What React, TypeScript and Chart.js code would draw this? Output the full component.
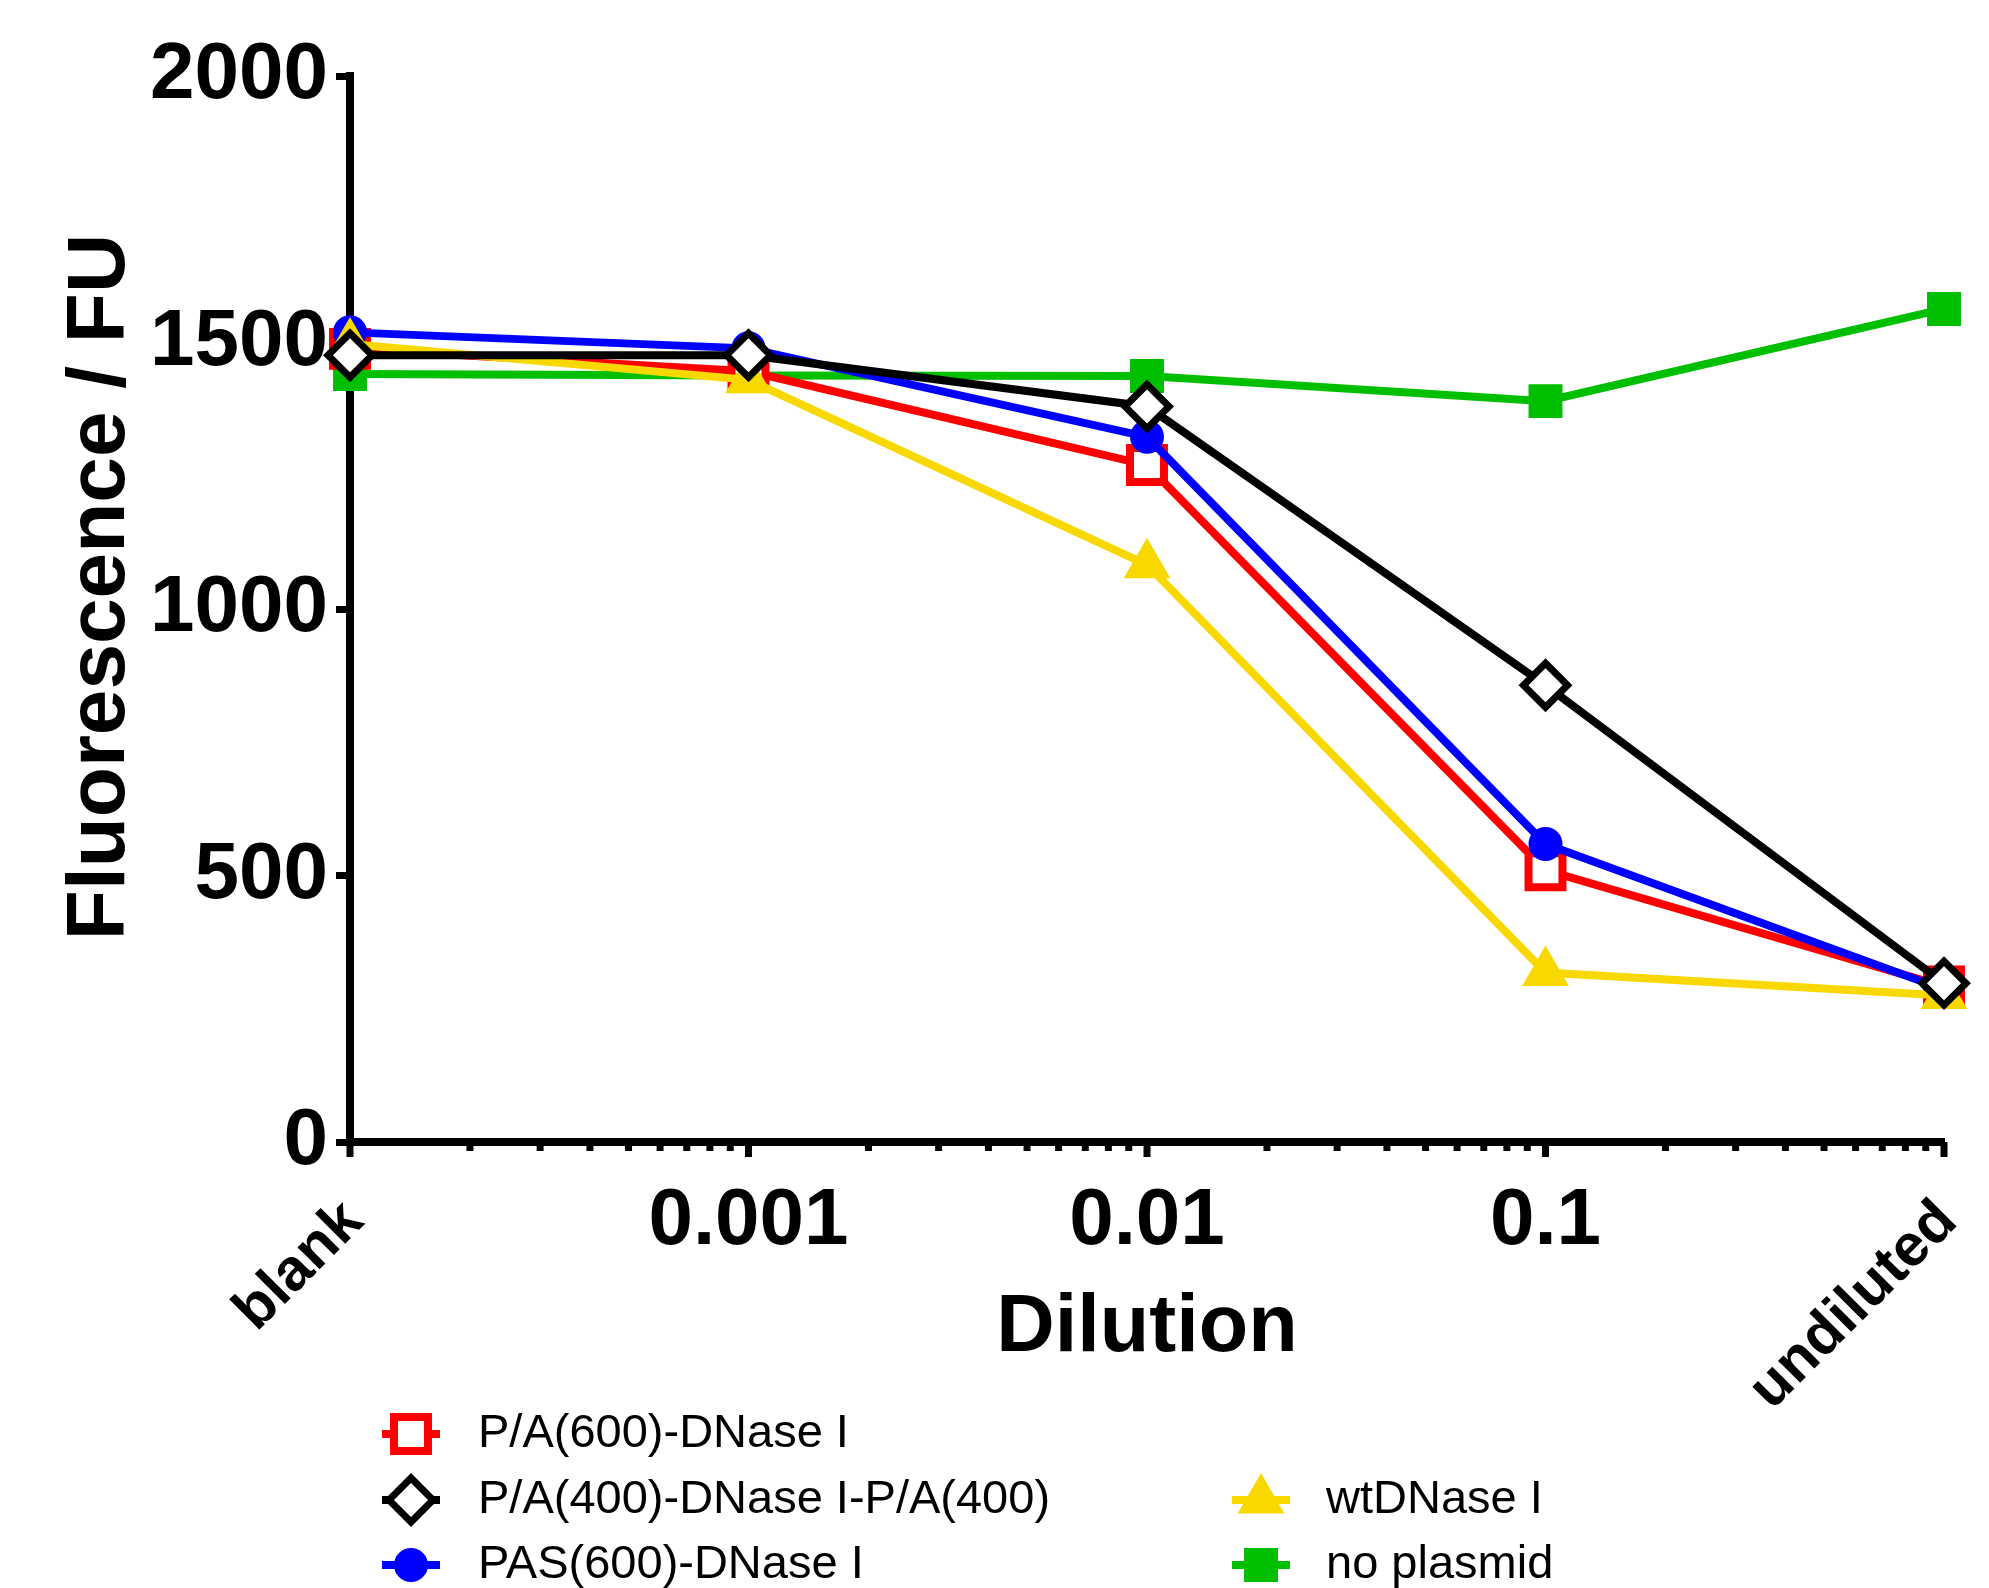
import React, { useEffect, useRef } from "react";
import { Chart, registerables } from "chart.js";
import { drawPoint } from "chart.js/helpers";

Chart.register(...registerables);

// ---------- data ----------
const dilutions = [0.0001, 0.001, 0.01, 0.1, 1];
const dilutionLabels = ["blank", "0.001", "0.01", "0.1", "undiluted"];

const seriesNames = [
  "P/A(600)-DNase I",
  "P/A(400)-DNase I-P/A(400)",
  "PAS(600)-DNase I",
  "wtDNase I",
  "no plasmid",
];
const pa600 = [1488, 1446, 1270, 510, 292];
const pa400 = [1476, 1476, 1380, 857, 298];
const pas600 = [1519, 1489, 1323, 559, 286];
const wtDNase = [1497, 1430, 1083, 318, 275];
const noPlasmid = [1441, 1438, 1437, 1390, 1563];

const yMin = 0;
const yMax = 2000;
const yStep = 500;

const xTitle = "Dilution";
const yTitle = "Fluorescence / FU";

const FONT = "'Liberation Sans', Arial, Helvetica, sans-serif";

const toPoints = (vals: number[]) => vals.map((y, i) => ({ x: dilutions[i], y }));

// legend slot (column, row) for each series, in dataset order
const legendSlots: [number, number][] = [
  [0, 0],
  [0, 1],
  [0, 2],
  [1, 1],
  [1, 2],
];

const customDrawPlugin = {
  id: "customDraw",
  afterDraw(chart: any) {
    const { ctx, chartArea, scales } = chart;
    const xs = scales.x;
    ctx.save();

    // x tick marks (decade majors + integer minors)
    ctx.strokeStyle = "#000";
    ctx.lineWidth = 7;
    for (const t of xs.ticks) {
      const v = t.value;
      if (!(v > 0)) continue;
      const e = Math.floor(Math.log10(v) + 1e-9);
      const m = v / Math.pow(10, e);
      if (Math.abs(m - Math.round(m)) > 1e-6) continue;
      const major = Math.abs(m - 1) < 1e-6 || Math.abs(m - 10) < 1e-6;
      const x = xs.getPixelForValue(v);
      ctx.beginPath();
      ctx.moveTo(x, chartArea.bottom);
      ctx.lineTo(x, chartArea.bottom + (major ? 15 : 9));
      ctx.stroke();
    }

    // x tick labels
    ctx.fillStyle = "#000";
    dilutions.forEach((v, i) => {
      const x = xs.getPixelForValue(v);
      const label = dilutionLabels[i];
      if (isNaN(Number(label))) {
        ctx.save();
        ctx.translate(x + 4, chartArea.bottom + 70);
        ctx.rotate(-Math.PI / 4);
        ctx.font = `bold 59px ${FONT}`;
        ctx.textAlign = "right";
        ctx.textBaseline = "middle";
        ctx.fillText(label, 0, 0);
        ctx.restore();
      } else {
        ctx.font = `bold 80px ${FONT}`;
        ctx.textAlign = "center";
        ctx.textBaseline = "alphabetic";
        ctx.fillText(label, x, chartArea.bottom + 102);
      }
    });

    // x title
    ctx.font = `bold 81px ${FONT}`;
    ctx.textAlign = "center";
    ctx.textBaseline = "alphabetic";
    ctx.fillText(xTitle, (chartArea.left + chartArea.right) / 2, chartArea.bottom + 209);

    // y title
    ctx.save();
    ctx.translate(101, 587);
    ctx.rotate(-Math.PI / 2);
    ctx.font = `bold 82px ${FONT}`;
    ctx.textAlign = "center";
    ctx.textBaseline = "middle";
    ctx.fillText(yTitle, 0, 0);
    ctx.restore();

    // legend
    const colMarkerX = [411, 1261];
    const colTextX = [478, 1326];
    const rowY = [1434, 1500, 1565];
    chart.data.datasets.forEach((ds: any, i: number) => {
      const [c, r] = legendSlots[i];
      const cx = colMarkerX[c];
      const cy = rowY[r];
      ctx.strokeStyle = ds.borderColor;
      ctx.lineWidth = 8;
      ctx.beginPath();
      ctx.moveTo(cx - 29, cy);
      ctx.lineTo(cx + 29, cy);
      ctx.stroke();
      ctx.fillStyle = ds.pointBackgroundColor;
      ctx.strokeStyle = ds.pointBorderColor;
      ctx.lineWidth = ds.pointBorderWidth;
      drawPoint(
        ctx,
        {
          pointStyle: ds.pointStyle,
          radius: ds.pointRadius,
          rotation: 0,
          borderWidth: ds.pointBorderWidth,
        } as any,
        cx,
        cy
      );
      ctx.fillStyle = "#000";
      ctx.font = `47px ${FONT}`;
      ctx.textAlign = "left";
      ctx.textBaseline = "middle";
      ctx.fillText(ds.label, colTextX[c], cy);
    });

    ctx.restore();
  },
};

export default function App() {
  const canvasRef = useRef<HTMLCanvasElement | null>(null);

  useEffect(() => {
    if (!canvasRef.current) return;
    const mk = (
      i: number,
      vals: number[],
      color: string,
      style: string,
      radius: number,
      bg: string,
      bw: number,
      order: number
    ) => ({
      label: seriesNames[i],
      data: toPoints(vals),
      borderColor: color,
      backgroundColor: bg,
      borderWidth: 8,
      pointStyle: style,
      pointRadius: radius,
      pointBackgroundColor: bg,
      pointBorderColor: color,
      pointBorderWidth: bw,
      tension: 0,
      order,
      clip: false as any,
    });

    const chart = new Chart(canvasRef.current, {
      type: "line",
      data: {
        datasets: [
          mk(0, pa600, "#FF0000", "rect", 24, "#FFFFFF", 8, 3),
          mk(1, pa400, "#000000", "rectRot", 22, "#FFFFFF", 7, 0),
          mk(2, pas600, "#0000FF", "circle", 16, "#0000FF", 2, 2),
          mk(3, wtDNase, "#F9D800", "triangle", 25, "#F9D800", 2, 1),
          mk(4, noPlasmid, "#00BF00", "rect", 24, "#00BF00", 0, 4),
        ] as any,
      },
      options: {
        responsive: false,
        animation: false,
        devicePixelRatio: 1,
        layout: { padding: { left: 0, top: 76, right: 45, bottom: 0 } },
        plugins: {
          legend: { display: false },
          tooltip: { enabled: false },
        },
        scales: {
          x: {
            type: "logarithmic",
            min: dilutions[0],
            max: dilutions[dilutions.length - 1],
            ticks: { display: false },
            grid: { display: false },
            border: { display: true, color: "#000", width: 8 },
            afterFit: (s: any) => {
              s.height = 446;
            },
          },
          y: {
            type: "linear",
            min: yMin,
            max: yMax,
            ticks: {
              stepSize: yStep,
              color: "#000",
              padding: 8,
              font: { family: FONT, size: 80, weight: "bold" },
              callback: (v: any) => String(v),
            },
            grid: {
              display: true,
              drawOnChartArea: false,
              drawTicks: true,
              tickLength: 14,
              tickWidth: 7,
              tickColor: "#000",
            },
            border: { display: true, color: "#000", width: 8 },
            afterFit: (s: any) => {
              s.width = 350;
            },
          },
        },
      } as any,
      plugins: [customDrawPlugin],
    });
    return () => chart.destroy();
  }, []);

  return (
    <div style={{ position: "absolute", left: 0, top: 0, width: 1989, height: 1588, background: "#fff" }}>
      <canvas ref={canvasRef} width={1989} height={1588} style={{ display: "block" }} />
    </div>
  );
}
